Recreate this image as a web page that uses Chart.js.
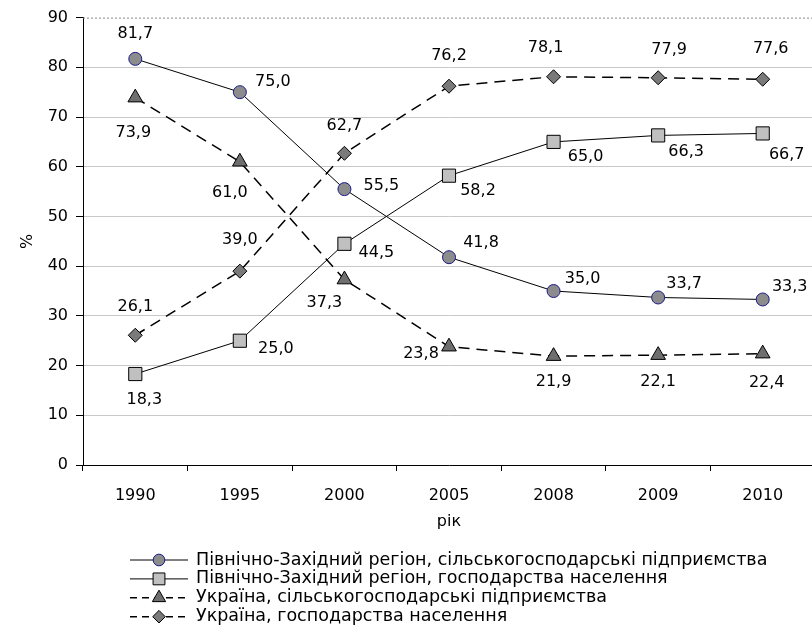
<!DOCTYPE html>
<html>
<head>
<meta charset="utf-8">
<script src="https://cdn.jsdelivr.net/npm/chart.js@4.4.1/dist/chart.umd.min.js"></script>
<style>
  html, body { margin: 0; padding: 0; background: #fff; overflow: hidden; }
  #wrap { width: 830px; height: 634px; position: relative; }
</style>
</head>
<body>
<div id="wrap"><canvas id="chart"></canvas></div>
<script>
const years = ['1990', '1995', '2000', '2005', '2008', '2009', '2010'];
const nwEnterprises = [81.7, 75.0, 55.5, 41.8, 35.0, 33.7, 33.3];
const nwHouseholds = [18.3, 25.0, 44.5, 58.2, 65.0, 66.3, 66.7];
const uaEnterprises = [73.9, 61.0, 37.3, 23.8, 21.9, 22.1, 22.4];
const uaHouseholds = [26.1, 39.0, 62.7, 76.2, 78.1, 77.9, 77.6];
const seriesNames = [
  'Північно-Західний регіон, сільськогосподарські підприємства',
  'Північно-Західний регіон, господарства населення',
  'Україна, сільськогосподарські підприємства',
  'Україна, господарства населення'
];
const yMin = 0, yMax = 90, yStep = 10;

// where each value label sits relative to its point (px)
const labelShift = [
  [[0, -25], [33, -10], [37, -3], [32, -14], [29, -12], [26, -14], [27, -13]],
  [[9, 26], [36, 8], [32, 9], [29, 15], [32, 15], [28, 16], [24, 21]],
  [[-2, 35], [-10, 31], [-20, 23], [-28, 7], [0, 26], [0, 27], [4, 29]],
  [[0, -28], [0, -31], [0, -27], [0, -30], [-8, -29], [11, -28], [8, -30]]
];

const FONT = 'DejaVu Sans';
const FS = 16;

function series(label, data, style) {
  return Object.assign({
    label: label,
    data: data,
    borderColor: '#000',
    borderWidth: 1,
    pointBorderColor: '#000',
    pointBorderWidth: 1,
    pointHoverRadius: 0,
    tension: 0,
    fill: false,
    clip: false
  }, style);
}

const valueLabels = {
  id: 'valueLabels',
  afterDatasetsDraw(chart) {
    const ctx = chart.ctx;
    ctx.save();
    ctx.font = FS + 'px "' + FONT + '"';
    ctx.fillStyle = '#000';
    ctx.textAlign = 'center';
    ctx.textBaseline = 'middle';
    chart.data.datasets.forEach((ds, i) => {
      chart.getDatasetMeta(i).data.forEach((pt, j) => {
        const s = labelShift[i][j];
        ctx.fillText(ds.data[j].toFixed(1).replace('.', ','), pt.x + s[0], pt.y + s[1]);
      });
    });
    ctx.restore();
  }
};

const frame = {
  id: 'frame',
  afterDraw(chart) {
    const ctx = chart.ctx;
    const a = chart.chartArea;
    ctx.save();
    ctx.strokeStyle = '#888';
    ctx.lineWidth = 1;
    ctx.setLineDash([2, 2]);
    ctx.beginPath();
    ctx.moveTo(a.left, a.top + 0.5);
    ctx.lineTo(a.right, a.top + 0.5);
    ctx.stroke();
    ctx.restore();
  }
};

const bottomLegend = {
  id: 'bottomLegend',
  afterDraw(chart) {
    const ctx = chart.ctx;
    ctx.save();
    ctx.font = '17.5px "' + FONT + '"';
    ctx.textAlign = 'left';
    ctx.textBaseline = 'middle';
    chart.data.datasets.forEach((ds, i) => {
      const y = 560 + i * 18.9;
      ctx.strokeStyle = '#000';
      ctx.lineWidth = ds.borderWidth;
      ctx.setLineDash(ds.borderDash ? [7, 5] : []);
      ctx.beginPath();
      ctx.moveTo(130, y);
      ctx.lineTo(188, y);
      ctx.stroke();
      ctx.setLineDash([]);
      ctx.fillStyle = ds.pointBackgroundColor;
      ctx.strokeStyle = ds.pointBorderColor;
      ctx.lineWidth = 1;
      Chart.helpers.drawPoint(ctx, {
        pointStyle: ds.pointStyle,
        radius: ds.pointRadius * 0.9,
        rotation: 0,
        borderWidth: 1
      }, 159, y);
      ctx.fillStyle = '#000';
      ctx.fillText(ds.label, 196, y);
    });
    ctx.restore();
  }
};

new Chart(document.getElementById('chart'), {
  type: 'line',
  data: {
    labels: years,
    datasets: [
      series(seriesNames[0], nwEnterprises, {
        pointStyle: 'circle', pointRadius: 6.5,
        pointBackgroundColor: '#8c8c8c', pointBorderColor: '#1a1a8c'
      }),
      series(seriesNames[1], nwHouseholds, {
        pointStyle: 'rect', pointRadius: 9.3,
        pointBackgroundColor: '#c0c0c0'
      }),
      series(seriesNames[2], uaEnterprises, {
        pointStyle: 'triangle', pointRadius: 8.5,
        pointBackgroundColor: '#6e6e6e',
        borderWidth: 1.5, borderDash: [11, 7]
      }),
      series(seriesNames[3], uaHouseholds, {
        pointStyle: 'rectRot', pointRadius: 7,
        pointBackgroundColor: '#7a7a7a',
        borderWidth: 1.5, borderDash: [11, 7]
      })
    ]
  },
  options: {
    responsive: true,
    maintainAspectRatio: false,
    animation: false,
    events: [],
    layout: { padding: { left: 10, right: 15, top: 17, bottom: 102.4 } },
    plugins: {
      legend: { display: false },
      tooltip: { enabled: false }
    },
    scales: {
      x: {
        type: 'category',
        offset: true,
        afterFit(scale) { scale.height = 66.6; },
        grid: {
          offset: true,
          drawOnChartArea: false,
          drawTicks: true,
          tickLength: 6,
          tickColor: '#000'
        },
        border: { color: '#000', width: 1 },
        ticks: {
          color: '#000',
          padding: 15,
          maxRotation: 0,
          font: { family: FONT, size: FS }
        },
        title: {
          display: true,
          text: 'рік',
          color: '#000',
          padding: { top: 0, bottom: 0 },
          font: { family: FONT, size: FS }
        }
      },
      y: {
        min: yMin,
        max: yMax,
        afterFit(scale) { scale.width = 73; },
        grid: {
          color: ctx => (ctx.tick && (ctx.tick.value === yMax || ctx.tick.value === yMin)) ? 'rgba(0,0,0,0)' : '#c8c8c8',
          tickColor: '#000',
          tickLength: 7,
          lineWidth: 1
        },
        border: { color: '#000', width: 1 },
        ticks: {
          stepSize: yStep,
          color: '#000',
          padding: 8,
          font: { family: FONT, size: FS }
        },
        title: {
          display: true,
          text: '%',
          color: '#000',
          padding: { top: 8, bottom: 0 },
          font: { family: FONT, size: FS }
        }
      }
    }
  },
  plugins: [valueLabels, frame, bottomLegend]
});
</script>
</body>
</html>
